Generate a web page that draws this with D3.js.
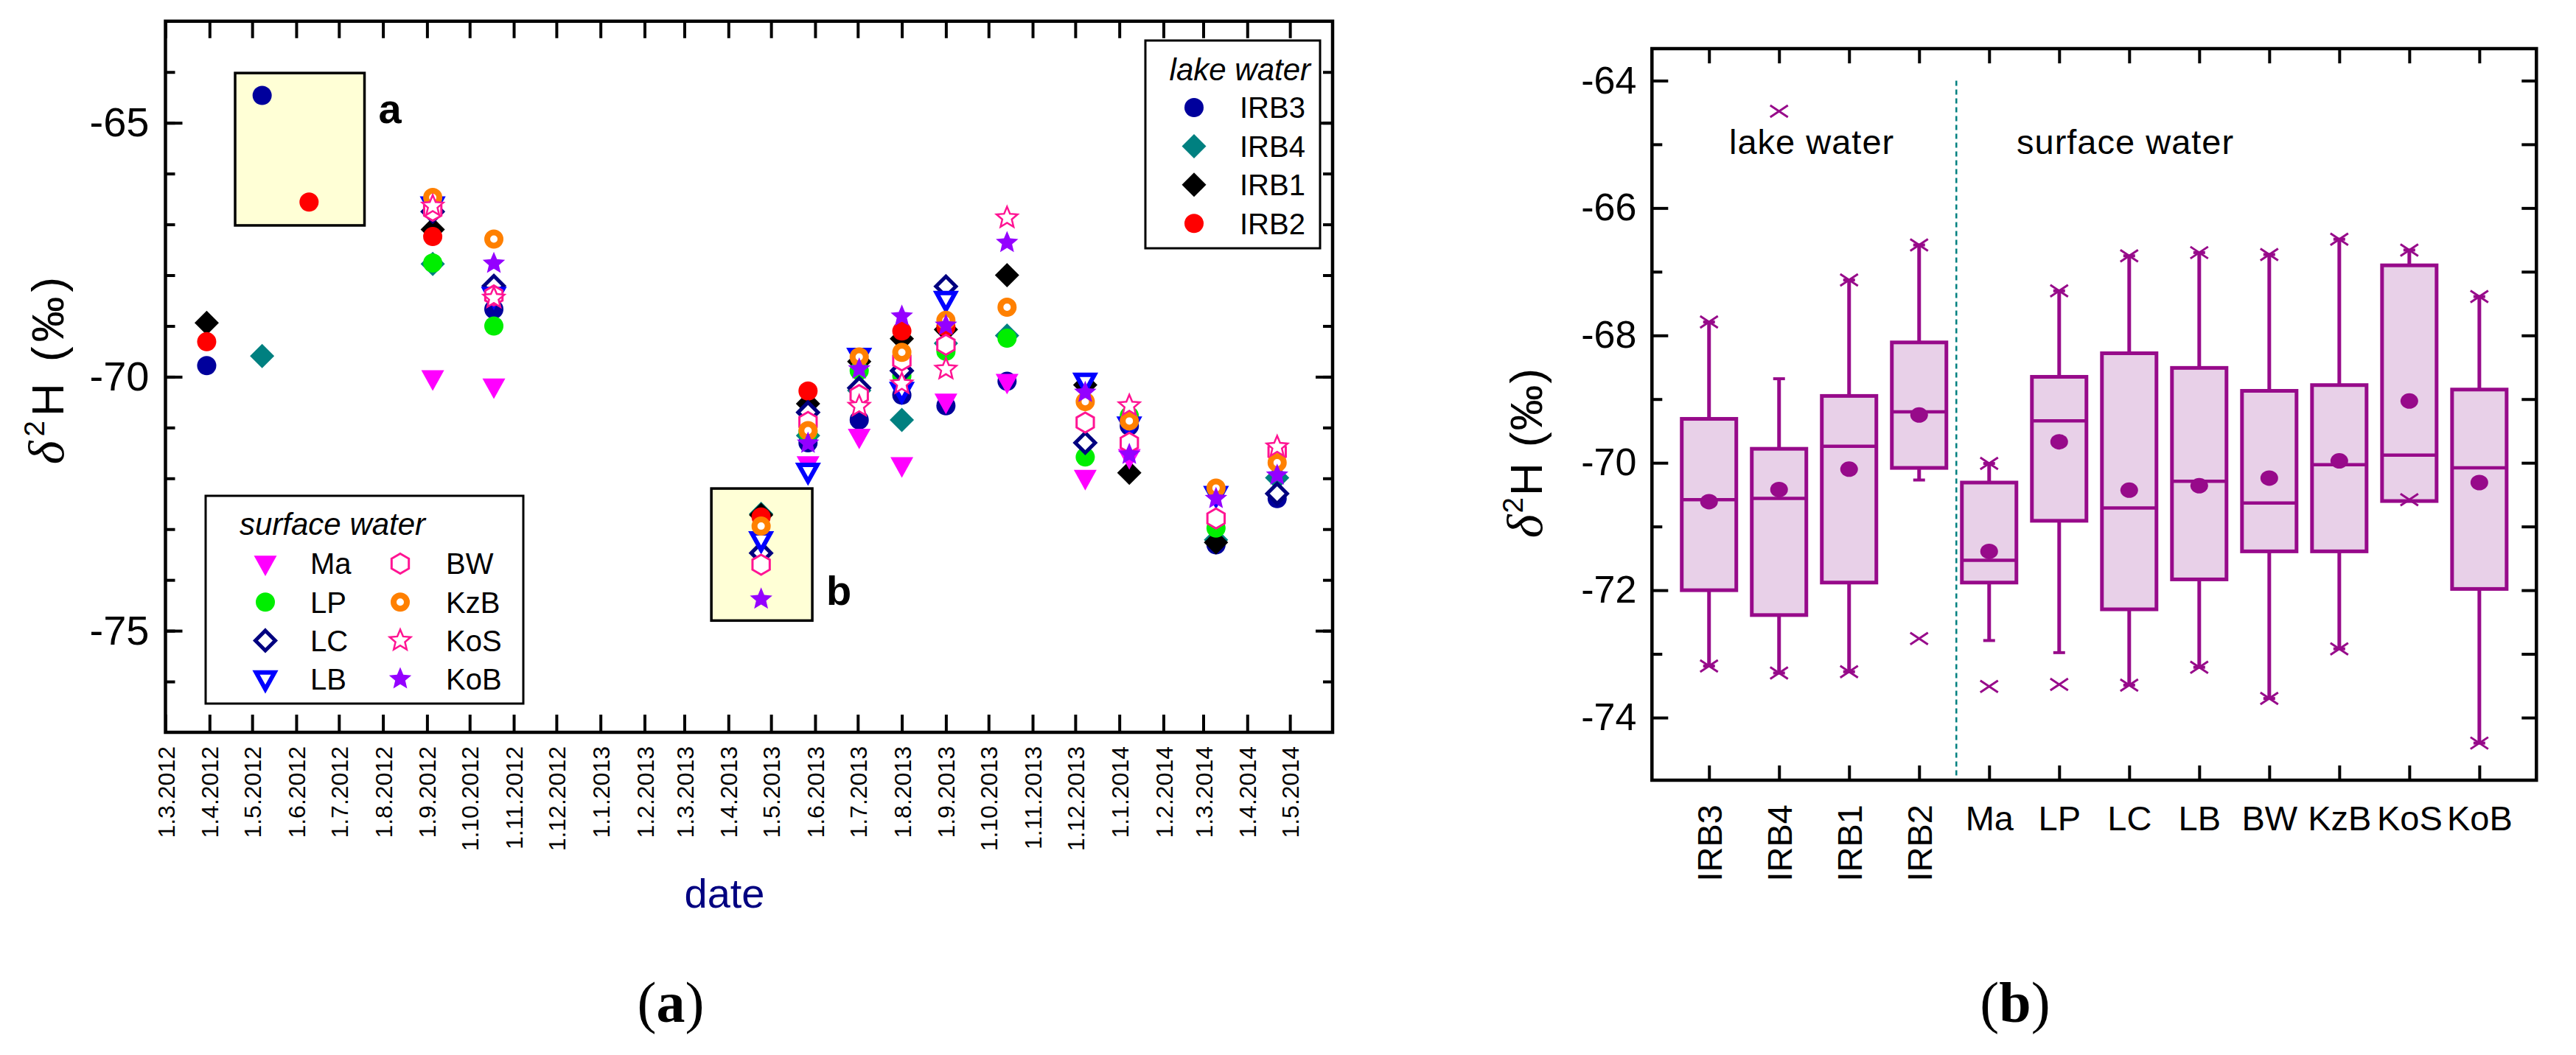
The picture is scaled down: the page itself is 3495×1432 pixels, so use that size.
<!DOCTYPE html>
<html>
<head>
<meta charset="utf-8">
<script src="https://cdn.jsdelivr.net/npm/d3@7"></script>
<style>
body{margin:0;background:#fff;}
svg{display:block;}
</style>
</head>
<body>
<script>
// ---- panel (a) data : sampling dates and d2H per site (null = no sample) ----
var sampleDates = ["2012-03-30","2012-05-08","2012-06-10","2012-09-05","2012-10-18","2013-04-24","2013-05-27",
                   "2013-07-02","2013-08-01","2013-09-01","2013-10-14","2013-12-08","2014-01-08","2014-03-10","2014-04-22"];

var IRB3 = [-69.78,-64.46,null,null,-68.67,null,-71.30,-70.85,-70.36,-70.57,-70.09,null,-70.97,-73.31,-72.40];
var IRB4 = [null,-69.59,null,-67.78,null,-72.70,-71.16,-70.27,-70.85,-69.34,-69.19,null,null,-73.21,-71.99];
var IRB1 = [-68.94,null,null,-67.10,null,-72.72,-70.53,-69.70,-69.25,-69.07,-68.00,-70.16,-71.89,-73.26,null];
var IRB2 = [-69.31,null,-66.56,-67.24,null,-72.76,-70.28,null,-69.10,-69.02,null,null,null,null,null];
var Ma   = [null,null,null,-70.03,-70.19,null,-71.72,-71.18,-71.74,-70.49,-70.10,-71.99,-71.58,null,null];
var LP   = [null,null,null,-67.76,-69.00,null,-71.09,-69.88,-69.98,-69.50,-69.24,-71.58,-70.77,-72.98,null];
var LC   = [null,null,null,-66.75,-68.21,-73.47,-70.70,-70.22,-69.88,-68.22,null,-71.30,null,null,-72.30];
var LB   = [null,null,null,-66.62,-68.40,-73.21,-71.86,-69.60,-70.27,-68.48,null,-70.09,-70.95,-72.32,null];
var BW   = [null,null,null,-66.73,-68.40,-73.70,-70.89,-70.36,-69.68,-69.37,null,-70.90,-71.30,-72.79,-71.48];
var KzB  = [null,null,null,-66.47,-67.29,-72.94,-71.06,-69.61,-69.52,-68.89,-68.63,-70.49,-70.87,-72.19,-71.69];
var KoS  = [null,null,null,-66.64,-68.45,null,null,-70.58,-70.14,-69.85,-66.87,null,-70.57,null,-71.38];
var KoB  = [null,null,null,null,-67.77,-74.38,-71.31,-69.85,-68.81,-68.99,-67.36,-70.31,-71.53,-72.40,-71.94];

var lakeSites = ["IRB3","IRB4","IRB1","IRB2"];
var surfaceSites = ["Ma","LP","LC","LB","BW","KzB","KoS","KoB"];
var siteValues = {IRB3:IRB3, IRB4:IRB4, IRB1:IRB1, IRB2:IRB2, Ma:Ma, LP:LP, LC:LC, LB:LB, BW:BW, KzB:KzB, KoS:KoS, KoB:KoB};

// highlighted boxes a and b (date range, d2H range)
var boxADates = ["2012-04-19","2012-07-19"], boxAVals = [-64.02,-67.02];
var boxBDates = ["2013-03-20","2013-05-30"], boxBVals = [-72.2,-74.8];

// axis (a)
var dateStart = "2012-03-01", dateEnd = "2014-05-31", lastTick = "2014-05-01";
var yTicksA = [-75,-70,-65];
var yMinorA = [-76,-75,-74,-73,-72,-71,-70,-69,-68,-67,-66,-65,-64];

// ---- panel (b) data : box statistics ----
var boxCats  = ["IRB3","IRB4","IRB1","IRB2","Ma","LP","LC","LB","BW","KzB","KoS","KoB"];
var q3       = [-69.31,-69.78,-68.95,-68.11,-70.31,-68.65,-68.28,-68.51,-68.87,-68.78,-66.90,-68.85];
var median   = [-70.58,-70.56,-69.74,-69.20,-71.53,-69.34,-70.71,-70.29,-70.63,-70.03,-69.88,-70.08];
var meanVal  = [-70.61,-70.42,-70.10,-69.25,-71.39,-69.67,-70.43,-70.36,-70.24,-69.97,-69.03,-70.31];
var q1       = [-72.00,-72.39,-71.88,-70.08,-71.88,-70.91,-72.30,-71.83,-71.39,-71.39,-70.60,-71.98];
var whiskHi  = [-67.79,-68.68,-67.13,-66.58,-70.01,-67.30,-66.75,-66.70,-66.73,-66.49,-66.66,-67.39];
var whiskLo  = [-73.19,-73.30,-73.28,-70.27,-72.79,-72.98,-73.49,-73.21,-73.70,-72.92,-70.60,-74.40];
var maxVal   = [-67.79,-64.48,-67.13,-66.58,-70.01,-67.30,-66.75,-66.70,-66.73,-66.49,-66.66,-67.39];
var minVal   = [-73.19,-73.30,-73.28,-72.76,-73.51,-73.48,-73.49,-73.21,-73.70,-72.92,-70.58,-74.40];
var yTicksB = [-74,-72,-70,-68,-66,-64];
var yMinorB = [-73,-71,-69,-67,-65];


// ================= drawing =================
var sans = "'Liberation Sans', Arial, sans-serif";
var serif = "'Liberation Serif', 'Times New Roman', serif";
var purple = "#970A8A";

var svg = d3.select("body").append("svg").attr("width", 3495).attr("height", 1432)
    .style("background", "#fff");

var markStyle = {
    IRB3:{shape:"circle", r:13, fill:"#00009C"},
    IRB4:{shape:"diamond", r:16.5, fill:"#008080"},
    IRB1:{shape:"diamond", r:16.5, fill:"#000000"},
    IRB2:{shape:"circle", r:13, fill:"#FF0000"},
    Ma:{shape:"tri", r:15.5, fill:"#FF00FF"},
    LP:{shape:"circle", r:13, fill:"#00EE00"},
    LC:{shape:"diamond", r:13.5, stroke:"#000080", sw:5},
    LB:{shape:"tri", r:12.5, stroke:"#0000FF", sw:6},
    BW:{shape:"hex", r:13.5, stroke:"#FF1493", sw:3},
    KzB:{shape:"circle", r:9, stroke:"#FF8000", sw:8},
    KoS:{shape:"star", r:15, stroke:"#FF1493", sw:2.5},
    KoB:{shape:"star", r:16, fill:"#9400FF"}
};

function shapePath(shape, r){
    var p = d3.path(), k, a, rr;
    if(shape=="circle"){ p.moveTo(r,0); p.arc(0,0,r,0,2*Math.PI); }
    if(shape=="diamond"){ p.moveTo(0,-r); p.lineTo(r,0); p.lineTo(0,r); p.lineTo(-r,0); }
    if(shape=="tri"){ p.moveTo(-r,-0.7*r); p.lineTo(r,-0.7*r); p.lineTo(0,1.1*r); }
    if(shape=="hex"){
	for(k=0;k<6;k++){ a=(-90+60*k)*Math.PI/180;
	    if(k==0) p.moveTo(r*Math.cos(a),r*Math.sin(a)); else p.lineTo(r*Math.cos(a),r*Math.sin(a)); }
    }
    if(shape=="star"){
	for(k=0;k<10;k++){ a=(-90+36*k)*Math.PI/180; rr = (k%2) ? r*0.45 : r;
	    if(k==0) p.moveTo(rr*Math.cos(a),rr*Math.sin(a)); else p.lineTo(rr*Math.cos(a),rr*Math.sin(a)); }
    }
    p.closePath();
    return p.toString();
}

function drawMark(g, name, x, y){
    var s = markStyle[name];
    g.append("path")
	.attr("d", shapePath(s.shape, s.r))
	.attr("transform", "translate("+x+","+y+")")
	.attr("fill", s.fill ? s.fill : "#fff")
	.attr("stroke", s.stroke ? s.stroke : "none")
	.attr("stroke-width", s.sw ? s.sw : 0)
	.attr("stroke-linejoin", "miter");
}

function writeText(g, x, y, text, size, opts){
    opts = opts || {};
    return g.append("text")
	.attr("x", x).attr("y", y).text(text)
	.attr("font-family", opts.family || sans)
	.attr("font-size", size)
	.attr("font-style", opts.style || "normal")
	.attr("font-weight", opts.weight || "normal")
	.attr("text-anchor", opts.anchor || "start")
	.attr("fill", opts.color || "#000");
}

function styleAxis(g){
    g.select(".domain").remove();
    g.selectAll(".tick line").attr("stroke", "#000").attr("stroke-width", 4);
    g.attr("font-family", sans);
}

// ---------------- panel (a) ----------------
var A = {left:224.5, right:1808, top:28.8, bottom:994};
var parseDay = d3.utcParse("%Y-%m-%d");
var xa = d3.scaleUtc().domain([parseDay(dateStart), parseDay(dateEnd)]).range([A.left, A.right]);
var ya = d3.scaleLinear().domain([-77, -63]).range([A.bottom, A.top]);
var pa = svg.append("g");

// yellow highlight boxes
[[boxADates, boxAVals], [boxBDates, boxBVals]].forEach(function(b){
    pa.append("rect")
	.attr("x", xa(parseDay(b[0][0]))).attr("y", ya(b[1][0]))
	.attr("width", xa(parseDay(b[0][1])) - xa(parseDay(b[0][0])))
	.attr("height", ya(b[1][1]) - ya(b[1][0]))
	.attr("fill", "#FFFFD6").attr("stroke", "#000").attr("stroke-width", 3.5);
});
writeText(pa, xa(parseDay(boxADates[1])) + 19, ya(boxAVals[0]) + 68, "a", 56, {weight:"bold"});
writeText(pa, xa(parseDay(boxBDates[1])) + 19, ya(boxBVals[1]) - 21, "b", 56, {weight:"bold"});

// data points
lakeSites.concat(surfaceSites).forEach(function(name){
    siteValues[name].forEach(function(v, i){
	if(v !== null) drawMark(pa, name, xa(parseDay(sampleDates[i])), ya(v));
    });
});

// axes (ticks inward on all four sides)
var monthTicks = d3.utcMonth.range(parseDay(dateStart), d3.utcDay.offset(parseDay(lastTick), 1));
pa.append("g").attr("transform", "translate("+A.left+",0)")
    .call(d3.axisLeft(ya).tickValues(yMinorA).tickSize(-13).tickFormat(""))
    .call(styleAxis);
pa.append("g").attr("transform", "translate("+A.left+",0)")
    .call(d3.axisLeft(ya).tickValues(yTicksA).tickSize(-23).tickPadding(22).tickFormat(function(d){return String(d);}))
    .call(styleAxis).attr("font-size", 56);
pa.append("g").attr("transform", "translate("+A.right+",0)")
    .call(d3.axisRight(ya).tickValues(yMinorA).tickSize(-13).tickFormat(""))
    .call(styleAxis);
pa.append("g").attr("transform", "translate("+A.right+",0)")
    .call(d3.axisRight(ya).tickValues(yTicksA).tickSize(-23).tickFormat(""))
    .call(styleAxis);
pa.append("g").attr("transform", "translate(0,"+A.top+")")
    .call(d3.axisTop(xa).tickValues(monthTicks).tickSize(-23).tickFormat(""))
    .call(styleAxis);
var xAxisA = pa.append("g").attr("transform", "translate(0,"+A.bottom+")")
    .call(d3.axisBottom(xa).tickValues(monthTicks).tickSize(-24).tickFormat(d3.utcFormat("%-d.%-m.%Y")))
    .call(styleAxis).attr("font-size", 32);
xAxisA.selectAll(".tick text")
    .attr("transform", "rotate(-90)").attr("x", -19).attr("y", 0)
    .attr("dy", "0.36em").attr("text-anchor", "end");

pa.append("rect")
    .attr("x", A.left).attr("y", A.top).attr("width", A.right-A.left).attr("height", A.bottom-A.top)
    .attr("fill", "none").attr("stroke", "#000").attr("stroke-width", 4.5);

// axis titles
function yTitle(g, x, y, size, spacing){
    var t = g.append("text").attr("transform", "translate("+x+","+y+") rotate(-90)")
	.attr("text-anchor", "middle").attr("font-family", sans).attr("font-size", size)
	.attr("letter-spacing", spacing);
    t.append("tspan").attr("font-family", serif).attr("font-style", "italic").attr("font-size", size*1.1).text("\u03B4");
    t.append("tspan").attr("font-size", size*0.62).attr("dy", -size*0.42).text("2");
    t.append("tspan").attr("dy", size*0.42).text("H (\u2030)");
}
yTitle(pa, 86, 500, 62, 6);
writeText(pa, 983, 1232, "date", 56, {anchor:"middle", color:"#000080"});

// legends
var legL = pa.append("g");
legL.append("rect").attr("x", 1554).attr("y", 55).attr("width", 237).attr("height", 282)
    .attr("fill", "#fff").attr("stroke", "#000").attr("stroke-width", 3);
writeText(legL, 1778, 109, "lake water", 42, {style:"italic", anchor:"end"});
lakeSites.forEach(function(name, i){
    drawMark(legL, name, 1620, 146 + i*52.4);
    writeText(legL, 1682, 146 + i*52.4, name, 40).attr("dy", "0.36em");
});

var legS = pa.append("g");
legS.append("rect").attr("x", 279).attr("y", 673).attr("width", 431).attr("height", 282)
    .attr("fill", "#fff").attr("stroke", "#000").attr("stroke-width", 3);
writeText(legS, 325, 726, "surface water", 42, {style:"italic"});
surfaceSites.forEach(function(name, i){
    var col = Math.floor(i/4), row = i%4;
    var sx = col ? 543 : 360, tx = col ? 605 : 421;
    drawMark(legS, name, sx, 765 + row*52.2);
    writeText(legS, tx, 765 + row*52.2, name, 40).attr("dy", "0.36em");
});

// ---------------- panel (b) ----------------
var B = {left:2241.3, right:3441.3, top:66, bottom:1059};
var xb = d3.scalePoint().domain(boxCats).range([B.left, B.right]).padding(0.815);
var yb = d3.scaleLinear().domain([-75, -63.5]).range([1060.5, 66.2]);
var pb = svg.append("g");
var bw = 74;

// separator between lake and surface water
var sepX = (xb("IRB2") + xb("Ma"))/2 + 3;
pb.append("line").attr("x1", sepX).attr("x2", sepX).attr("y1", yb(-64)).attr("y2", B.bottom)
    .attr("stroke", "#008080").attr("stroke-width", 2.5).attr("stroke-dasharray", "7,5");
writeText(pb, 2346, 209, "lake water", 47).attr("letter-spacing", 1);
writeText(pb, 2736, 209, "surface water", 47).attr("letter-spacing", 1);

boxCats.forEach(function(c, i){
    var cx = xb(c);
    pb.append("line").attr("x1", cx).attr("x2", cx).attr("y1", yb(whiskHi[i])).attr("y2", yb(q3[i]))
	.attr("stroke", purple).attr("stroke-width", 5);
    pb.append("line").attr("x1", cx).attr("x2", cx).attr("y1", yb(q1[i])).attr("y2", yb(whiskLo[i]))
	.attr("stroke", purple).attr("stroke-width", 5);
    [whiskHi[i], whiskLo[i]].forEach(function(w){
	pb.append("line").attr("x1", cx-8).attr("x2", cx+8).attr("y1", yb(w)).attr("y2", yb(w))
	    .attr("stroke", purple).attr("stroke-width", 4);
    });
    pb.append("rect").attr("x", cx-bw/2).attr("y", yb(q3[i]))
	.attr("width", bw).attr("height", yb(q1[i]) - yb(q3[i]))
	.attr("fill", "#E8D0E8").attr("stroke", purple).attr("stroke-width", 5);
    pb.append("line").attr("x1", cx-bw/2-1).attr("x2", cx+bw/2+2).attr("y1", yb(median[i])).attr("y2", yb(median[i]))
	.attr("stroke", purple).attr("stroke-width", 4.5);
    pb.append("ellipse").attr("cx", cx).attr("cy", yb(meanVal[i])).attr("rx", 12).attr("ry", 10.5)
	.attr("fill", purple);
    [maxVal[i], minVal[i]].forEach(function(m){
	pb.append("path").attr("transform", "translate("+cx+","+yb(m)+")")
	    .attr("d", "M-12,-8L12,8M-12,8L12,-8")
	    .attr("stroke", purple).attr("stroke-width", 3).attr("fill", "none");
    });
});

pb.append("g").attr("transform", "translate("+B.left+",0)")
    .call(d3.axisLeft(yb).tickValues(yMinorB).tickSize(-14).tickFormat(""))
    .call(styleAxis);
pb.append("g").attr("transform", "translate("+B.left+",0)")
    .call(d3.axisLeft(yb).tickValues(yTicksB).tickSize(-22).tickPadding(21).tickFormat(function(d){return String(d);}))
    .call(styleAxis).attr("font-size", 52);
pb.append("g").attr("transform", "translate("+B.right+",0)")
    .call(d3.axisRight(yb).tickValues(yTicksB.concat(yMinorB)).tickSize(-20).tickFormat(""))
    .call(styleAxis);
pb.append("g").attr("transform", "translate(0,"+B.top+")")
    .call(d3.axisTop(xb).tickSize(-20).tickFormat(""))
    .call(styleAxis);
var xAxisB = pb.append("g").attr("transform", "translate(0,"+B.bottom+")")
    .call(d3.axisBottom(xb).tickSize(-20))
    .call(styleAxis).attr("font-size", 47);
xAxisB.selectAll(".tick text").each(function(d){
    var t = d3.select(this);
    if(d.indexOf("IRB") == 0){
	t.attr("transform", "rotate(-90)").attr("x", -33).attr("y", 0)
	    .attr("dy", "0.36em").attr("text-anchor", "end");
    } else {
	t.attr("y", 35).attr("dy", "0.71em");
    }
});

pb.append("rect")
    .attr("x", B.left).attr("y", B.top).attr("width", B.right-B.left).attr("height", B.bottom-B.top)
    .attr("fill", "none").attr("stroke", "#000").attr("stroke-width", 4.5);

yTitle(pb, 2092, 614, 62, 2);

// ---------------- captions ----------------
function caption(x, letter){
    var t = svg.append("text").attr("x", x).attr("y", 1387).attr("text-anchor", "middle")
	.attr("font-family", serif).attr("font-size", 78);
    t.append("tspan").text("(");
    t.append("tspan").attr("font-weight", "bold").text(letter);
    t.append("tspan").text(")");
}
caption(910, "a");
caption(2734, "b");
</script>
</body>
</html>
